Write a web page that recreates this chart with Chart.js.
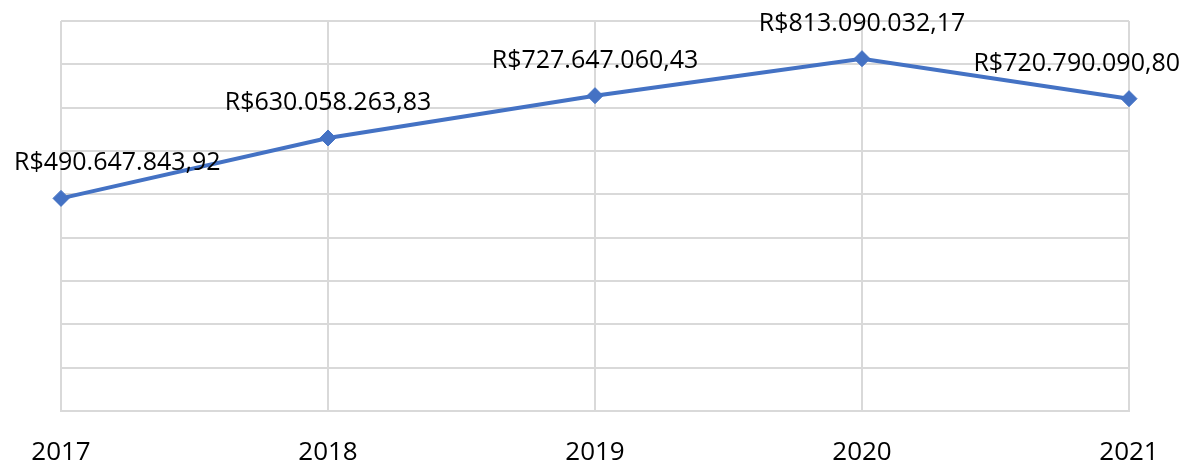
<!DOCTYPE html>
<html>
<head>
<meta charset="utf-8">
<script src="https://cdn.jsdelivr.net/npm/chart.js@4"></script>
<style>
  html, body { margin: 0; padding: 0; background: #fff; }
  #wrap { width: 1188px; height: 465px; }
</style>
</head>
<body>
<div id="wrap"><canvas id="chart" width="1188" height="465"></canvas></div>
<script>
const years = ['2017', '2018', '2019', '2020', '2021'];
const totals = [490647843.92, 630058263.83, 727647060.43, 813090032.17, 720790090.80];
const valueLabels = ['R$490.647.843,92', 'R$630.058.263,83', 'R$727.647.060,43', 'R$813.090.032,17', 'R$720.790.090,80'];

const FONT = "'Open Sans', 'Liberation Sans', sans-serif";

// labels above each point, kept inside the canvas like Excel does
const pointLabels = {
  id: 'pointLabels',
  afterDatasetsDraw(chart) {
    const ctx = chart.ctx;
    const meta = chart.getDatasetMeta(0);
    ctx.save();
    ctx.font = '25px ' + FONT;
    ctx.fillStyle = '#000';
    ctx.textAlign = 'left';
    ctx.textBaseline = 'alphabetic';
    meta.data.forEach((pt, i) => {
      const txt = valueLabels[i];
      const w = ctx.measureText(txt).width;
      let x = pt.x - w / 2;
      x = Math.max(14, Math.min(chart.width - 8 - w, x));
      ctx.fillText(txt, x, pt.y - 28);
    });
    ctx.restore();
  }
};

new Chart(document.getElementById('chart'), {
  type: 'line',
  data: {
    labels: years,
    datasets: [{
      data: totals,
      borderColor: '#4472C4',
      backgroundColor: '#4472C4',
      borderWidth: 4,
      pointStyle: 'rectRot',
      pointRadius: 8,
      pointBorderWidth: 1,
      tension: 0
    }]
  },
  options: {
    responsive: false,
    animation: false,
    layout: { padding: { left: 61, right: 59, top: 21, bottom: 0 } },
    plugins: { legend: { display: false }, tooltip: { enabled: false } },
    scales: {
      x: {
        offset: false,
        grid: { color: '#D9D9D9', lineWidth: 2, drawTicks: false },
        border: { color: '#D9D9D9', width: 2 },
        ticks: { color: '#000', font: { family: FONT, size: 26 }, padding: 26, maxRotation: 0 },
        afterFit(scale) { scale.height = 54; }
      },
      y: {
        min: 0,
        max: 900000000,
        grid: { color: '#D9D9D9', lineWidth: 2, drawTicks: false },
        border: { display: false },
        ticks: { display: false, stepSize: 100000000 }
      }
    }
  },
  plugins: [pointLabels]
});
</script>
</body>
</html>
